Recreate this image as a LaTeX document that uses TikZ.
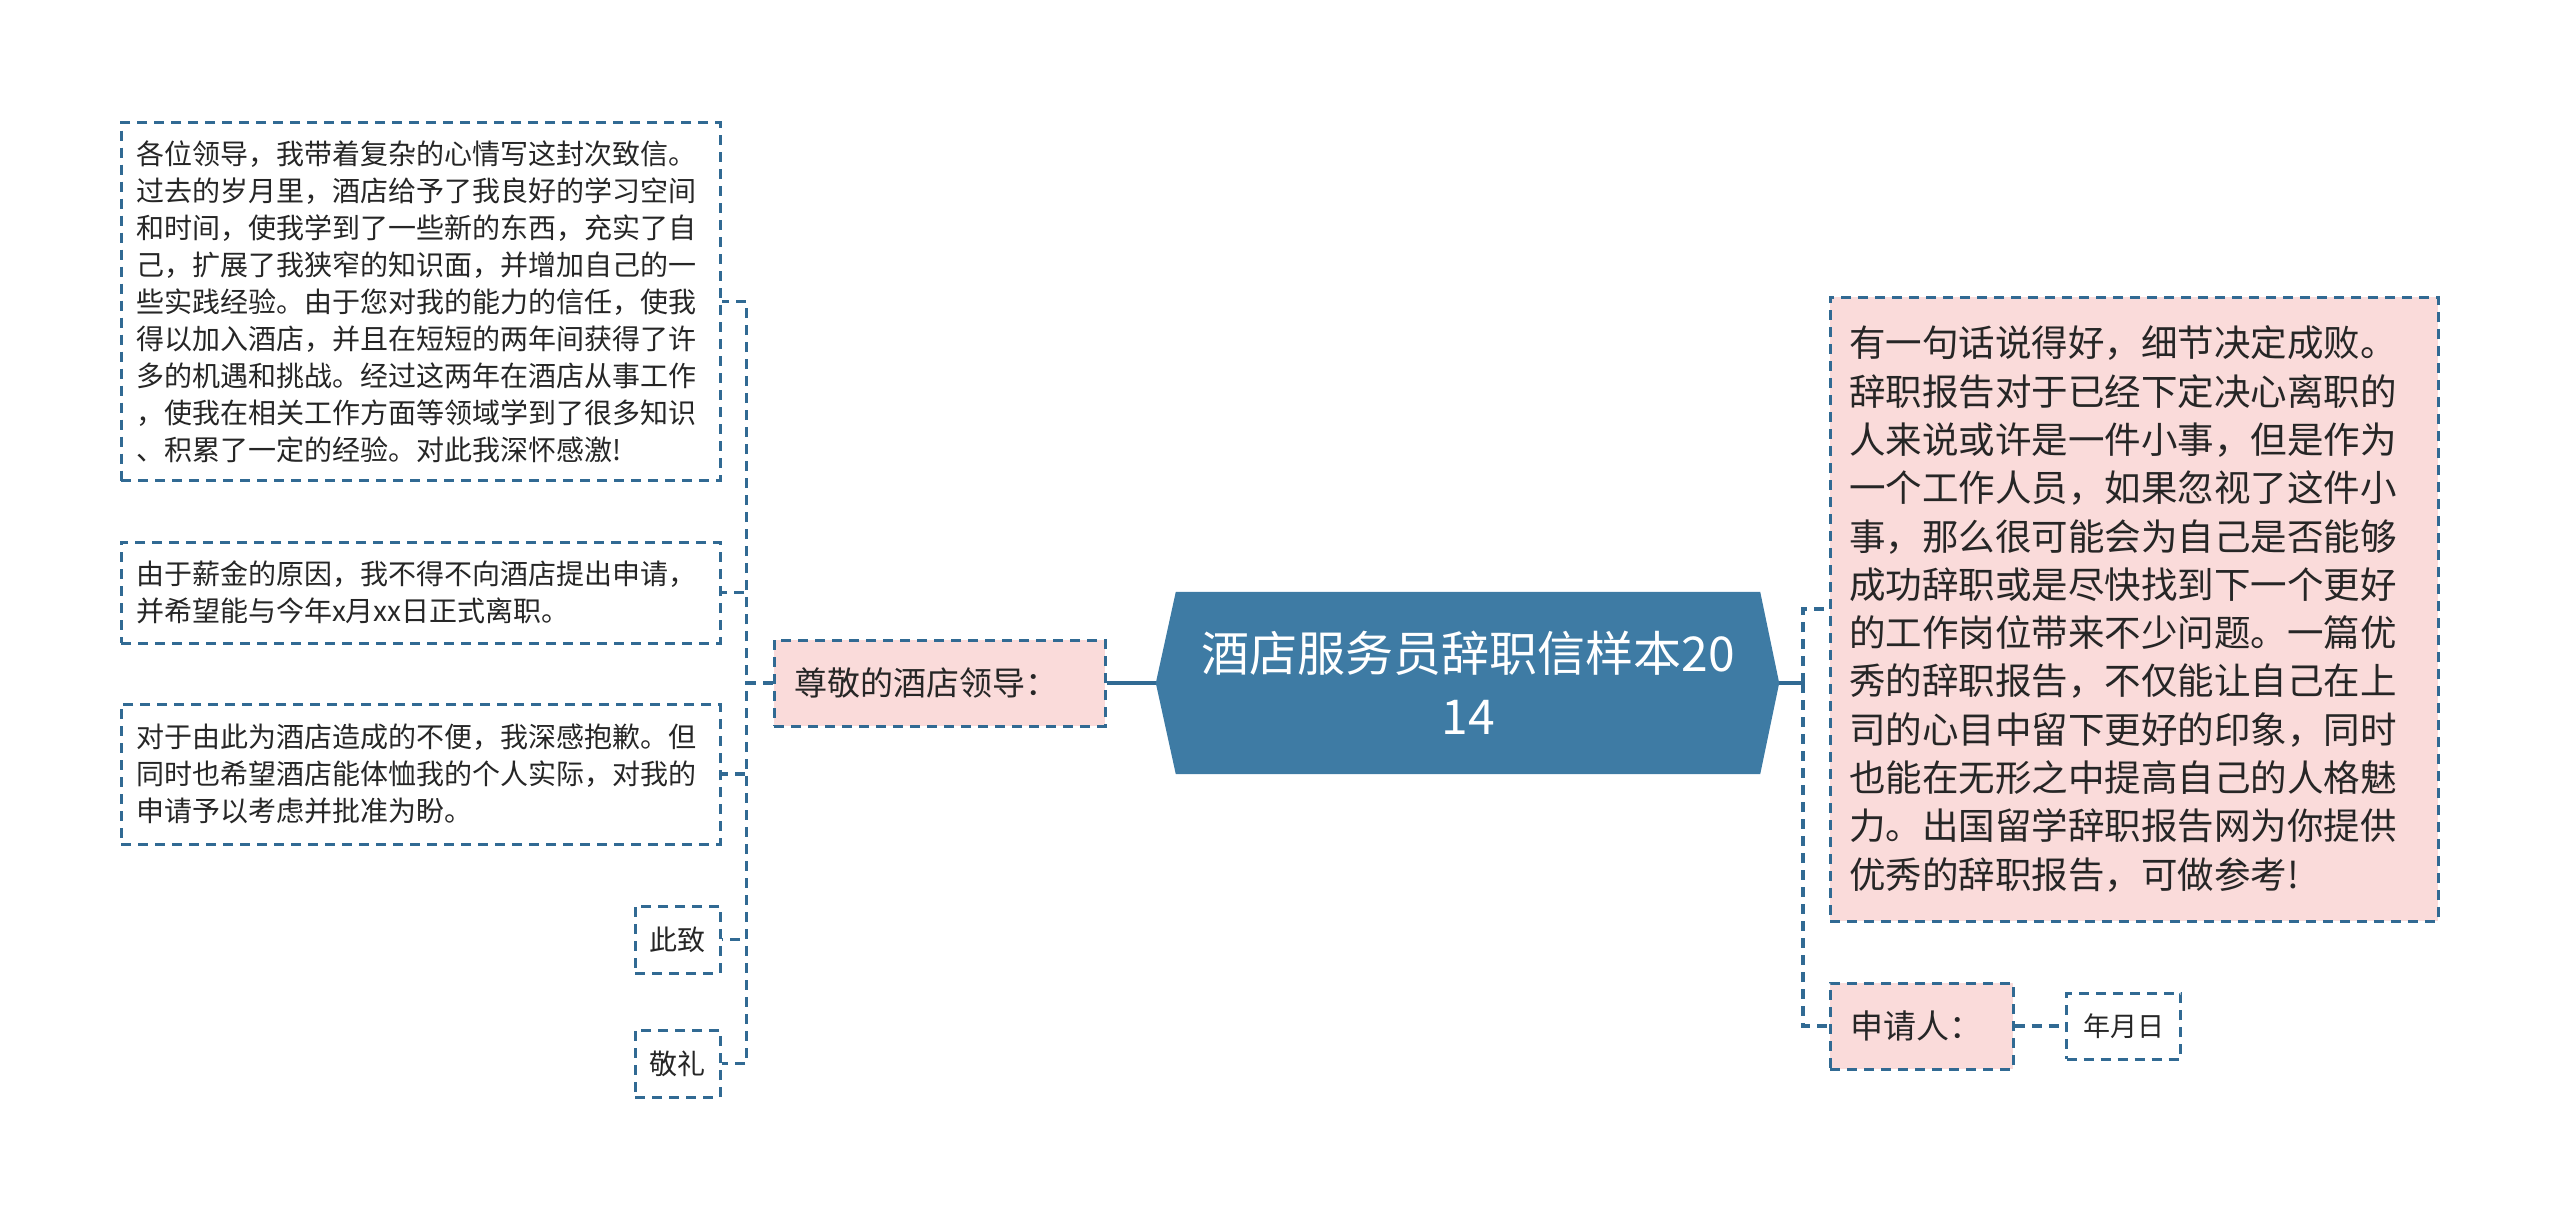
\documentclass[tikz,border=0pt]{standalone}
\usepackage{fontspec}
\setmainfont{Noto Sans CJK SC}
\usetikzlibrary{backgrounds}
\definecolor{bord}{HTML}{316A93}
\definecolor{rootfill}{HTML}{3E7BA4}
\definecolor{pinkfill}{HTML}{FADBDA}
\definecolor{txt}{HTML}{262626}
\tikzset{
  dbox/.style={draw=bord, line width=3pt, dash pattern=on 10pt off 7pt, inner sep=0pt, text=txt},
  pinkbox/.style={dbox, fill=pinkfill},
  whitebox/.style={dbox, fill=white},
  conn/.style={draw=bord, line width=3.2pt, dash pattern=on 10pt off 7pt},
  rootconn/.style={draw=bord, line width=3.2pt},
  smalltxt/.style={font=\fontsize{28pt}{37pt}\selectfont},
}
\begin{document}
\begin{tikzpicture}[x=1pt,y=-1pt]
\useasboundingbox (0,0) rectangle (2560,1219);
% central node
\node[minimum width=584pt, minimum height=182pt, inner sep=0pt, text=white, align=center,
      font=\fontsize{48pt}{63pt}\selectfont] (c) at (1468,683) {};
\coordinate (cW) at ([xshift=-20pt]c.west);
\coordinate (cE) at ([xshift=19pt]c.east);
\fill[rootfill] (c.north west) -- (c.north east) -- (cE) -- (c.south east) -- (c.south west) -- (cW) -- cycle;
\node[text=white, align=center, font=\fontsize{48pt}{63pt}\selectfont] (ct) at (c.center) {酒店服务员辞职信样本20\\14};
% left side
\node[pinkbox, minimum width=331pt, minimum height=86pt, text width=291pt, align=left,
      font=\fontsize{33pt}{40pt}\selectfont] (L1) at (939.5,683) {尊敬的酒店领导：};
\node[whitebox, minimum width=599pt, minimum height=358pt, text width=569pt, align=left, smalltxt] (b1) at (420.5,301.5)
 {各位领导，我带着复杂的心情写这封次致信。\\过去的岁月里，酒店给予了我良好的学习空间\\和时间，使我学到了一些新的东西，充实了自\\己，扩展了我狭窄的知识面，并增加自己的一\\些实践经验。由于您对我的能力的信任，使我\\得以加入酒店，并且在短短的两年间获得了许\\多的机遇和挑战。经过这两年在酒店从事工作\\，使我在相关工作方面等领域学到了很多知识\\、积累了一定的经验。对此我深怀感激!};
\node[whitebox, minimum width=599pt, minimum height=101pt, text width=569pt, align=left, smalltxt] (b2) at (420.5,592.5)
 {由于薪金的原因，我不得不向酒店提出申请，\\并希望能与今年x月xx日正式离职。};
\node[whitebox, minimum width=599pt, minimum height=140pt, text width=569pt, align=left, smalltxt] (b3) at (420.5,774)
 {对于由此为酒店造成的不便，我深感抱歉。但\\同时也希望酒店能体恤我的个人实际，对我的\\申请予以考虑并批准为盼。};
\node[whitebox, minimum width=85pt, minimum height=67pt, smalltxt] (b4) at (677.5,939.5) {此致};
\node[whitebox, minimum width=85pt, minimum height=67pt, smalltxt] (b5) at (677.5,1063.5) {敬礼};
% right side
\node[pinkbox, minimum width=608pt, minimum height=624pt, text width=570pt, align=left,
      font=\fontsize{36.5pt}{48.3pt}\selectfont] (r1) at (2134,609)
 {有一句话说得好，细节决定成败。\\辞职报告对于已经下定决心离职的\\人来说或许是一件小事，但是作为\\一个工作人员，如果忽视了这件小\\事，那么很可能会为自己是否能够\\成功辞职或是尽快找到下一个更好\\的工作岗位带来不少问题。一篇优\\秀的辞职报告，不仅能让自己在上\\司的心目中留下更好的印象，同时\\也能在无形之中提高自己的人格魅\\力。出国留学辞职报告网为你提供\\优秀的辞职报告，可做参考!};
\node[pinkbox, minimum width=183pt, minimum height=86pt, text width=142pt, align=left,
      font=\fontsize{33pt}{40pt}\selectfont] (r2) at (1921.5,1026) {申请人：};
\node[whitebox, minimum width=114pt, minimum height=66pt, font=\fontsize{27pt}{34pt}\selectfont] (r3) at (2123.5,1026) {年月日};
\coordinate (rb) at (1803,683);
% connectors
\begin{pgfonlayer}{background}
\draw[rootconn] (L1.east) -- (cW);
\draw[rootconn] (cE) -- (rb);
\foreach \b in {b1,b2,b3,b4,b5}
  \draw[conn] (L1.west) -- ++(-26,0) |- (\b.east);
\draw[conn] (rb) |- (r1.west);
\draw[conn] (rb) |- (r2.west);
\draw[conn] (r2.east) -- (r3.west);
\end{pgfonlayer}
\end{tikzpicture}
\end{document}
